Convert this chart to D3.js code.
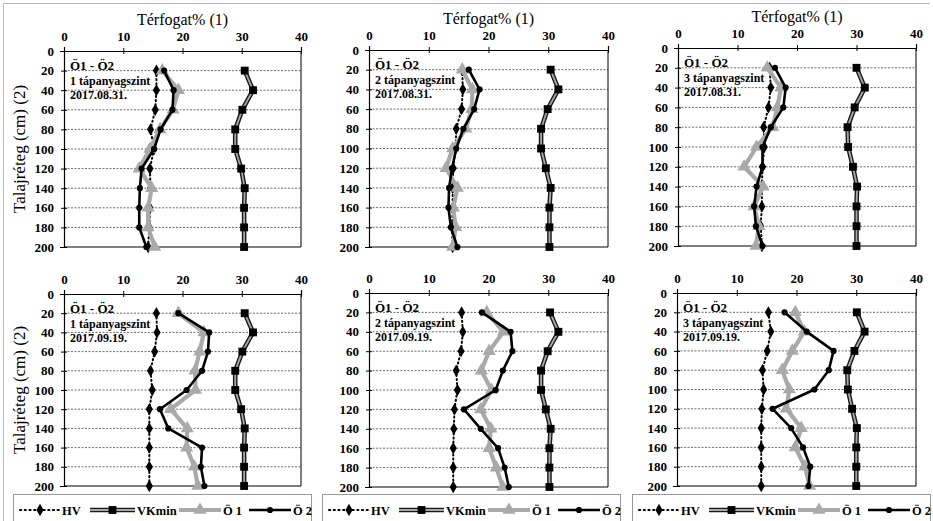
<!DOCTYPE html>
<html>
  <head>
    <meta charset="utf-8">
    <title>Térfogat% – Talajréteg</title>
    <script src="https://d3js.org/d3.v7.min.js"></script>
    <style>
      body { margin: 0; background: #fff; }
      svg { display: block; font-family: "Liberation Serif", "Times New Roman", serif; }
      svg text { font-family: "Liberation Serif", "Times New Roman", serif; }
      .tick text { font-weight: bold; font-size: 13px; fill: #000; }
      .grid { stroke: #444; stroke-width: 0.8; stroke-dasharray: 2,1.5; }
      .note { font-weight: bold; font-size: 12px; }
      .legend text { font-weight: bold; font-size: 12.5px; }
    </style>
  </head>
  <body>
    <svg id="chart" width="933" height="521"></svg>
    <script>
      // depth levels (cm) and axis ticks
      depths = [20, 40, 60, 80, 100, 120, 140, 160, 180, 200];
      xTicks = [0, 10, 20, 30, 40];
      yTicks = [0, 20, 40, 60, 80, 100, 120, 140, 160, 180, 200];
      seriesNames = ["HV", "VKmin", "Ö 1", "Ö 2"];
      levels = ["1 tápanyagszint", "2 tápanyagszint", "3 tápanyagszint",
                "1 tápanyagszint", "2 tápanyagszint", "3 tápanyagszint"];
      dates = ["2017.08.31.", "2017.08.31.", "2017.08.31.",
               "2017.09.19.", "2017.09.19.", "2017.09.19."];

      // 2017.08.31.
      hv1 = [15.6, 15.6, 15.4, 14.6, 15.2, 14.5, 14.6, 14.5, 14.4, 14.2];
      vk1 = [30.5, 31.9, 30.1, 28.9, 28.9, 29.9, 30.5, 30.4, 30.4, 30.4];
      o1_1 = [16.6, 19.3, 18.4, 16.2, 14.5, 12.7, 14.8, 14.2, 14.2, 15.3];
      o2_1 = [16.9, 18.5, 18.3, 16.3, 15.2, 13.1, 12.8, 12.7, 12.7, 13.9];

      hv2 = [15.6, 15.7, 15.5, 14.6, 14.5, 14.1, 14.0, 14.0, 13.9, 14.0];
      vk2 = [30.4, 31.7, 29.9, 28.8, 28.8, 29.6, 30.4, 30.2, 30.2, 30.2];
      o1_2 = [15.6, 17.3, 17.2, 16.2, 14.0, 12.9, 14.8, 14.1, 14.5, 14.0];
      o2_2 = [16.7, 18.5, 17.6, 15.8, 14.6, 13.9, 13.4, 13.3, 13.7, 14.8];

      hv3 = [15.4, 15.6, 15.2, 14.4, 14.5, 14.2, 14.1, 14.1, 13.9, 14.1];
      vk3 = [30.0, 31.4, 29.7, 28.5, 28.6, 29.4, 30.1, 30.0, 30.0, 30.0];
      o1_3 = [15.0, 17.3, 16.7, 15.9, 13.2, 11.1, 14.3, 12.8, 13.6, 13.1];
      o2_3 = [16.3, 18.1, 17.7, 15.6, 14.2, 14.2, 13.2, 12.8, 13.1, 14.2];

      // 2017.09.19.
      hv4 = [15.6, 15.7, 15.3, 14.6, 14.9, 14.4, 14.4, 14.4, 14.4, 14.4];
      vk4 = [30.5, 31.9, 30.1, 28.9, 28.9, 29.9, 30.5, 30.4, 30.4, 30.4];
      o1_4 = [19.3, 23.6, 22.9, 22.1, 22.2, 18.0, 20.8, 20.7, 22.0, 22.6];
      o2_4 = [19.3, 24.5, 24.3, 23.3, 20.7, 16.2, 17.6, 23.3, 23.1, 23.7];

      hv5 = [15.5, 15.7, 15.4, 14.6, 14.8, 14.3, 14.2, 14.1, 14.1, 14.1];
      vk5 = [30.3, 31.7, 29.9, 28.8, 28.8, 29.6, 30.4, 30.2, 30.2, 30.2];
      o1_5 = [19.7, 22.5, 20.1, 18.8, 20.5, 18.7, 20.4, 20.1, 21.3, 22.4];
      o2_5 = [18.9, 23.7, 24.0, 22.4, 21.2, 15.9, 18.7, 21.6, 22.7, 23.4];

      hv6 = [15.3, 15.7, 15.1, 14.3, 14.5, 14.2, 14.1, 14.1, 14.1, 14.1];
      vk6 = [30.1, 31.4, 29.7, 28.5, 28.6, 29.3, 30.1, 30.0, 30.0, 30.0];
      o1_6 = [19.8, 21.3, 19.3, 17.6, 18.8, 18.3, 20.8, 19.8, 21.4, 22.2];
      o2_6 = [18.0, 21.7, 26.2, 25.4, 23.0, 16.0, 19.1, 21.1, 22.3, 22.0];

      panelData = [
        [hv1, vk1, o1_1, o2_1], [hv2, vk2, o1_2, o2_2], [hv3, vk3, o1_3, o2_3],
        [hv4, vk4, o1_4, o2_4], [hv5, vk5, o1_5, o2_5], [hv6, vk6, o1_6, o2_6]
      ];

      // plot boxes in pixels
      boxes = [
        { l: 64, r: 301, t: 51, b: 247 }, { l: 369, r: 608, t: 50, b: 247 }, { l: 678, r: 916, t: 48, b: 246 },
        { l: 64, r: 301, t: 294, b: 486 }, { l: 369, r: 608, t: 293, b: 487 }, { l: 677, r: 916, t: 293, b: 486 }
      ];
      legendBoxes = [13, 322, 632];

      svg = d3.select("#chart");

      // light frame round the figure
      svg.append("path")
        .attr("d", "M3.5,521 V3.5 H930")
        .attr("fill", "none")
        .attr("stroke", "#bbb");

      symbols = [d3.symbolDiamond, d3.symbolSquare, d3.symbolTriangle, d3.symbolCircle];
      symSize = [44, 62, 75, 30];

      function drawSeries(g, values, i, x, y) {
        pts = depths.map(function(d, j) { return [x(values[j]), y(d)]; });
        line = d3.line();
        if (i == 0) {
          g.append("path").attr("d", line(pts)).attr("fill", "none")
            .attr("stroke", "#000").attr("stroke-width", 2)
            .attr("stroke-dasharray", "1.2,3").attr("stroke-linecap", "round");
        } else if (i == 1) {
          g.append("path").attr("d", line(pts)).attr("fill", "none")
            .attr("stroke", "#1a1a1a").attr("stroke-width", 4.6);
          g.append("path").attr("d", line(pts)).attr("fill", "none")
            .attr("stroke", "#a8a8a8").attr("stroke-width", 1.8);
        } else if (i == 2) {
          g.append("path").attr("d", line(pts)).attr("fill", "none")
            .attr("stroke", "#a9a9a9").attr("stroke-width", 4.2)
            .attr("stroke-linejoin", "round");
        } else {
          g.append("path").attr("d", line(pts)).attr("fill", "none")
            .attr("stroke", "#000").attr("stroke-width", 2.6)
            .attr("stroke-linejoin", "round");
        }
        g.selectAll(null)
          .data(pts)
          .join("path")
            .attr("transform", function(p) { return "translate(" + p[0] + "," + p[1] + ")"; })
            .attr("d", d3.symbol(symbols[i], symSize[i]))
            .attr("fill", i == 2 ? "#a9a9a9" : "#000");
      }

      panelData.forEach(function(series, k) {
        box = boxes[k];
        x = d3.scaleLinear().domain([0, 40]).range([box.l, box.r]);
        y = d3.scaleLinear().domain([0, 200]).range([box.t, box.b]);
        g = svg.append("g");

        // dotted gridlines
        g.selectAll(".grid")
          .data(yTicks.filter(function(d) { return d > 0 && d < 200; }))
          .join("line")
            .attr("class", "grid")
            .attr("x1", box.l).attr("x2", box.r)
            .attr("y1", function(d) { return y(d); })
            .attr("y2", function(d) { return y(d); });

        // right and bottom edges of plot box
        g.append("path")
          .attr("d", "M" + box.r + "," + box.t + " V" + box.b + " H" + box.l)
          .attr("fill", "none").attr("stroke", "#000").attr("stroke-width", 1);

        xAxis = g.append("g")
          .attr("transform", "translate(0," + box.t + ")")
          .call(d3.axisTop(x).tickValues(xTicks).tickSize(4).tickPadding(6));
        xAxis.selectAll(".tick line").attr("y2", -3).attr("y1", 3);
        yAxis = g.append("g")
          .attr("transform", "translate(" + box.l + ",0)")
          .call(d3.axisLeft(y).tickValues(yTicks).tickSize(4).tickPadding(6));
        yAxis.selectAll(".tick line").attr("x2", -3).attr("x1", 3);
        xAxis.attr("font-family", null).attr("font-size", null);
        yAxis.attr("font-family", null).attr("font-size", null);
        g.selectAll(".domain").attr("stroke", "#000").attr("stroke-width", 1.2);

        series.forEach(function(values, i) { drawSeries(g, values, i, x, y); });

        // panel note
        note = g.append("text").attr("class", "note").attr("x", box.l + 6);
        note.append("tspan").attr("x", box.l + 6).attr("y", box.t + 19).attr("font-size", 13).text("Ö1 - Ö2");
        note.append("tspan").attr("x", box.l + 6).attr("y", box.t + 34).text(levels[k]);
        note.append("tspan").attr("x", box.l + 6).attr("y", box.t + 48).text(dates[k]);

        if (k < 3) {
          svg.append("text")
            .attr("x", (box.l + box.r) / 2).attr("y", box.t - 26)
            .attr("text-anchor", "middle").attr("font-size", 16)
            .text("Térfogat% (1)");
        }
        if (k % 3 == 0) {
          svg.append("text")
            .attr("transform", "translate(25," + ((box.t + box.b) / 2) + ") rotate(-90)")
            .attr("text-anchor", "middle").attr("font-size", 17)
            .text("Talajréteg (cm) (2)");
        }
      });

      // legends under the lower panels
      legendBoxes.forEach(function(lx) {
        lg = svg.append("g").attr("class", "legend").attr("transform", "translate(" + lx + ",494)");
        lg.append("rect").attr("x", 0.5).attr("y", 0.5).attr("width", 298).attr("height", 30)
          .attr("fill", "#fff").attr("stroke", "#999");
        starts = [7, 77, 166, 236];
        lens = [40, 45, 42, 42];
        seriesNames.forEach(function(name, i) {
          sx = d3.scaleLinear().domain([0, 1]).range([starts[i], starts[i] + lens[i]]);
          item = lg.append("g");
          ly = 16;
          if (i == 0) {
            item.append("line").attr("x1", sx(0)).attr("x2", sx(1)).attr("y1", ly).attr("y2", ly)
              .attr("stroke", "#000").attr("stroke-width", 2).attr("stroke-dasharray", "1.2,3.5").attr("stroke-linecap", "round");
          } else if (i == 1) {
            item.append("line").attr("x1", sx(0)).attr("x2", sx(1)).attr("y1", ly).attr("y2", ly)
              .attr("stroke", "#1a1a1a").attr("stroke-width", 4.6);
            item.append("line").attr("x1", sx(0)).attr("x2", sx(1)).attr("y1", ly).attr("y2", ly)
              .attr("stroke", "#a8a8a8").attr("stroke-width", 1.8);
          } else if (i == 2) {
            item.append("line").attr("x1", sx(0)).attr("x2", sx(1)).attr("y1", ly).attr("y2", ly)
              .attr("stroke", "#a9a9a9").attr("stroke-width", 4.2);
          } else {
            item.append("line").attr("x1", sx(0)).attr("x2", sx(1)).attr("y1", ly).attr("y2", ly)
              .attr("stroke", "#000").attr("stroke-width", 2.6);
          }
          item.append("path")
            .attr("transform", "translate(" + sx(0.5) + "," + ly + ")")
            .attr("d", d3.symbol(symbols[i], symSize[i]))
            .attr("fill", i == 2 ? "#a9a9a9" : "#000");
          item.append("text").attr("x", sx(1) + 2).attr("y", ly + 4.5).text(name);
        });
      });
    </script>
  </body>
</html>
